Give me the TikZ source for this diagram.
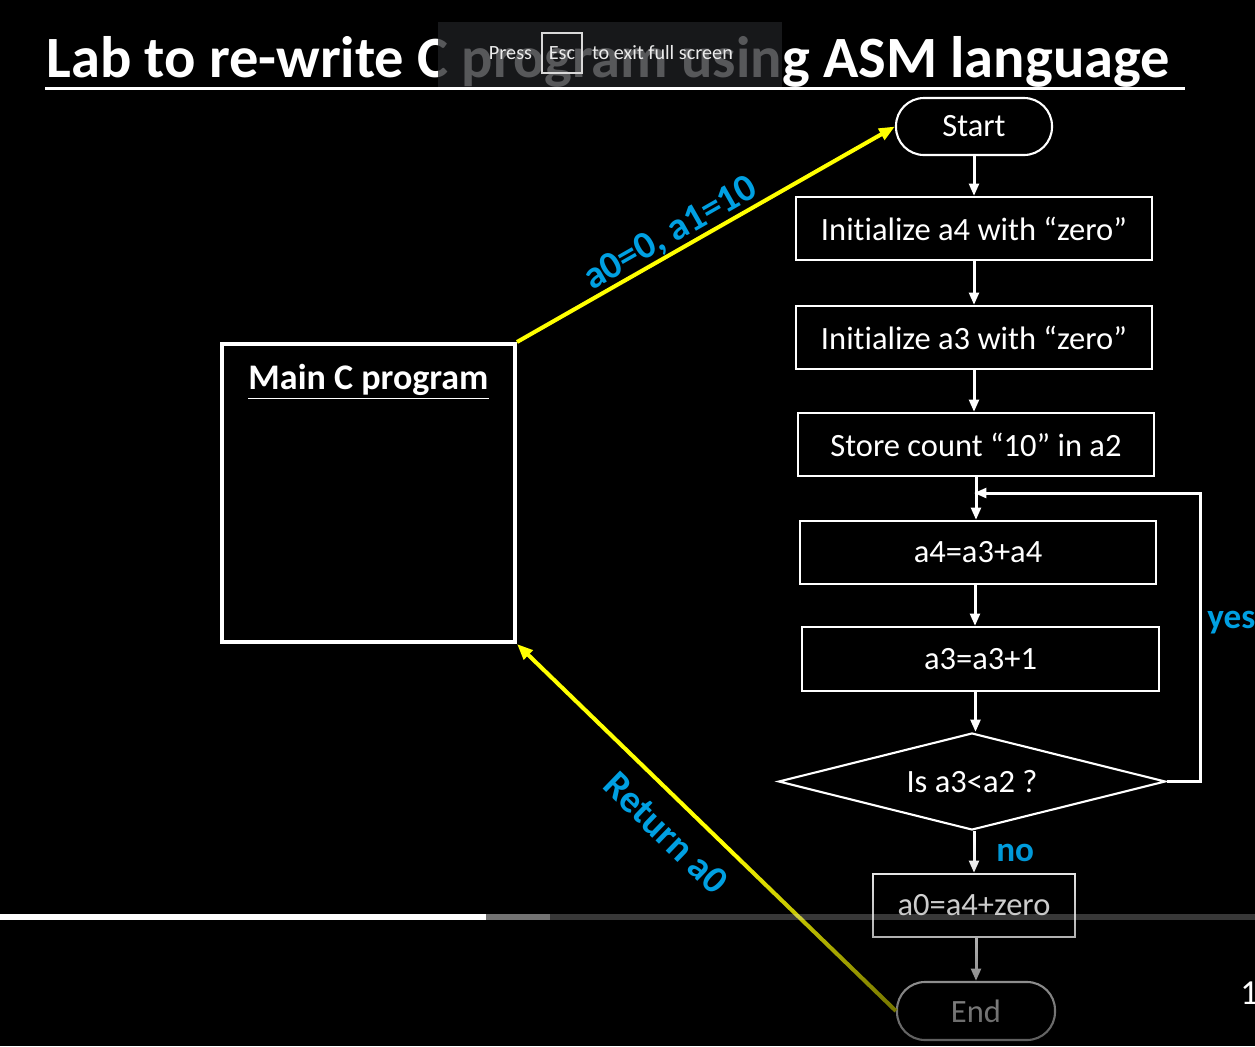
\documentclass[tikz,border=0pt]{standalone}
\usepackage{fontspec}
\setmainfont{Carlito}[Ligatures=NoCommon]
\usetikzlibrary{shapes.geometric,arrows.meta,fadings}
\definecolor{lblue}{RGB}{0,160,226}
\definecolor{yel}{RGB}{255,255,0}
\definecolor{ovl}{RGB}{32,33,36}
\newcommand\pxu{0.02cm}
\tikzfading[name=fadedown, top color=transparent!100, bottom color=transparent!0]
\begin{document}
\begin{tikzpicture}[x=0.02cm,y=-0.02cm,
  box/.style={draw=white, line width=1.2pt, text=white, font=\fontsize{18.5}{22}\selectfont, inner sep=0pt},
  term/.style={box, rounded corners=28*\pxu},
  flow/.style={draw=white, line width=1.7pt, -{Triangle[length=7pt,width=5.5pt]}},
  yarrow/.style={draw=yel, line width=2.3pt, -{Triangle[length=9pt,width=7pt]}},
  lbl/.style={text=lblue, font=\bfseries\fontsize{22}{26}\selectfont, inner sep=0pt},
  yn/.style={text=lblue, font=\bfseries\fontsize{20}{24}\selectfont, inner sep=0pt},
  ovtext/.style={text=white!92!black, font=\fontsize{11.5}{14}\selectfont, inner sep=0pt}
]
\fill[black] (0,0) rectangle (1255,1046);
\useasboundingbox (0,0) rectangle (1255,1046);

% title
\node[anchor=base west, inner sep=0pt, text=white, font=\bfseries\fontsize{33.3}{38}\selectfont] (title) at (46,77) {Lab to re-write C program using ASM language};
\draw[white, line width=2pt] (45,88.5) -- (1185,88.5);

% full-screen overlay
\node[fill=ovl, fill opacity=0.75, inner sep=0pt, minimum width=344*\pxu, minimum height=65*\pxu] (overlay) at (610,54.5) {};
\node[ovtext] (press) at (510.5,53) {Press};
\node[ovtext, draw=white!85!black, line width=0.7pt, minimum width=40*\pxu, minimum height=40*\pxu] (esc) at (562,53) {Esc};
\node[ovtext] (exitfs) at (662.5,53) {to exit full screen};

% main C program
\node[draw=white, line width=2.3pt, minimum width=293*\pxu, minimum height=298*\pxu, inner sep=0pt] (main) at (368.5,493) {};
\node[text=white, font=\bfseries\fontsize{20.5}{24}\selectfont, inner sep=0pt] (mainlbl) at (368.5,382) {\underline{Main C program}};

% flowchart
\node[term, minimum width=156*\pxu, minimum height=57*\pxu] (start) at (974,126.5) {Start};
\node[box, minimum width=356*\pxu, minimum height=63*\pxu] (n1) at (974,228.5) {Initialize a4 with “zero”};
\node[box, minimum width=356*\pxu, minimum height=63*\pxu] (n2) at (974,337.5) {Initialize a3 with “zero”};
\node[box, minimum width=356*\pxu, minimum height=63*\pxu] (n3) at (976,444.5) {Store count “10” in a2};
\node[box, minimum width=356*\pxu, minimum height=63*\pxu] (n4) at (978,552.5) {a4=a3+a4};
\node[box, minimum width=357*\pxu, minimum height=64*\pxu] (n5) at (980.5,659) {a3=a3+1};
\node[box, diamond, minimum width=387*\pxu, minimum height=97*\pxu, aspect=4] (dia) at (972,781.5) {Is a3<a2 ?};
\node[box, minimum width=202*\pxu, minimum height=63*\pxu] (n6) at (974,905.5) {a0=a4+zero};
\node[term, minimum width=158*\pxu, minimum height=58*\pxu] (end) at (976,1011) {End};

\draw[flow] (start.south) -- (start.south |- n1.north);
\draw[flow] (n1.south) -- (n1.south |- n2.north);
\draw[flow] (n2.south) -- (n2.south |- n3.north);
\draw[flow] (n3.south) -- (n3.south |- n4.north);
\draw[flow] ([xshift=-3*\pxu]n4.south) -- ([xshift=-3*\pxu]n4.south |- n5.north);
\draw[flow] ([xshift=-5*\pxu]n5.south) -- ([xshift=-5*\pxu]n5.south |- dia.north);
\draw[flow] ([xshift=2*\pxu]dia.south) -- ([xshift=2*\pxu]dia.south |- n6.north);
\draw[flow] ([xshift=2*\pxu]n6.south) -- ([xshift=2*\pxu]n6.south |- end.north);

\coordinate (loopR) at (1200,493);
\coordinate (loopE) at (974,493);
\draw[flow] (dia.east) -| (loopR) -- (loopE);

\node[yn, anchor=west] (yes) at (1207,623) {yes};
\node[yn, anchor=west] (no) at (996,853) {no};

% yellow arrows
\draw[yarrow] (main.north east) -- (start.west);
\draw[yarrow] (end.west) -- (main.south east);
\node[lbl, rotate=29.7] (args) at (671,234) {a0=0, a1=10};
\node[lbl, rotate=-44] (ret) at (666,833) {Return a0};

% fade of the lower part
\fill[black, path fading=fadedown, fill opacity=0.65] (740,840) rectangle (1100,1046);

% progress bar
\fill[white] (0,914) rectangle (486,920);
\fill[white, opacity=0.45] (486,914) rectangle (550,920);
\fill[white, opacity=0.22] (550,914) rectangle (1255,920);

\node[text=white, font=\fontsize{20}{24}\selectfont, anchor=west, inner sep=0pt] (pg) at (1240,993) {1};
\end{tikzpicture}
\end{document}
